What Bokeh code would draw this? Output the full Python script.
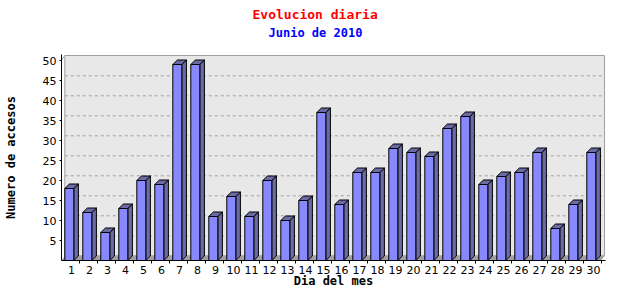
from bokeh.plotting import figure
from bokeh.models import FixedTicker, Title, Range1d
from bokeh.embed import file_html
from bokeh.resources import INLINE

# ---- data ----
days = list(range(1, 31))
visits = [18, 12, 7, 13, 20, 19, 49, 49, 11, 16, 11, 20, 10, 15, 37,
          14, 22, 22, 28, 27, 26, 33, 36, 19, 21, 22, 27, 8, 14, 27]
y_ticks = [5, 10, 15, 20, 25, 30, 35, 40, 45, 50]
title_text = "Evolucion diaria"
subtitle_text = "Junio de 2010"
x_title = "Dia del mes"
y_title = "Numero de accesos"

# ---- geometry / style ----
FRAME_L, FRAME_R, FRAME_T, FRAME_B = 61, 605, 54, 260
PX_PER_CAT = 18.0
PX_PER_UNIT = 4.0
FIRST_LABEL_PX = 71.0
TITLE_LEFT_PX, SUBTITLE_LEFT_PX = 252, 268

x_start = days[0] - (FIRST_LABEL_PX - FRAME_L) / PX_PER_CAT
x_end = x_start + (FRAME_R - FRAME_L) / PX_PER_CAT
y_end = (FRAME_B - FRAME_T) / PX_PER_UNIT

DX = 4.6 / PX_PER_CAT          # bar depth (x, data units)
DY = 4.5 / PX_PER_UNIT         # bar depth (y, data units)
PLANE_DX = 3.3 / PX_PER_CAT
PLANE_DY = 4.7 / PX_PER_UNIT
BAR_L = -6.7 / PX_PER_CAT
BAR_R = 2.3 / PX_PER_CAT
TICK_OFF = 7.5 / PX_PER_CAT

plane_left = x_start + PLANE_DX
plane_right = x_start + (604 - FRAME_L) / PX_PER_CAT
plane_top = (FRAME_B - 55) / PX_PER_UNIT

FRONT = "#8888ff"
SIDE = "#6b6ba6"
PLANE_BG = "#e8e8e8"
GRAY = "#a0a0a0"
MONO = "DejaVu Sans Mono"
SANS = "DejaVu Sans"

p = figure(width=640, height=300,
           x_range=Range1d(x_start, x_end), y_range=Range1d(0, y_end),
           output_backend="svg", toolbar_location=None, title=None,
           min_border_left=FRAME_L, min_border_right=640 - FRAME_R,
           min_border_top=FRAME_T, min_border_bottom=300 - FRAME_B)
p.outline_line_color = None
p.background_fill_color = "white"
p.border_fill_color = "white"
p.xgrid.visible = False
p.ygrid.visible = False

# back plane
p.quad(left=[plane_left], right=[plane_right], bottom=[PLANE_DY], top=[plane_top],
       fill_color=PLANE_BG, line_color=GRAY, line_width=1)
# corner slant
p.segment(x0=[x_start], y0=[plane_top - PLANE_DY], x1=[plane_left], y1=[plane_top],
          line_color=GRAY, line_width=1)
# floor
p.patch(x=[x_start, plane_left, plane_right, plane_right - PLANE_DX],
        y=[0, PLANE_DY, PLANE_DY, 0], fill_color=GRAY, line_color=None)
# dashed grid on back plane
grid_vals = [v for v in y_ticks if v + PLANE_DY < plane_top - 0.5]
p.segment(x0=[plane_left] * len(grid_vals), x1=[plane_right] * len(grid_vals),
          y0=[v + PLANE_DY for v in grid_vals], y1=[v + PLANE_DY for v in grid_vals],
          line_color=GRAY, line_width=1, line_dash="3 3")

# 3D bars
front_xs, front_ys, side_xs, side_ys, top_xs, top_ys = [], [], [], [], [], []
for d, v in zip(days, visits):
    l, r = d + BAR_L, d + BAR_R
    front_xs.append([l, r, r, l]); front_ys.append([0, 0, v, v])
    side_xs.append([r, r + DX, r + DX, r]); side_ys.append([0, DY, v + DY, v])
    top_xs.append([l, l + DX, r + DX, r]); top_ys.append([v, v + DY, v + DY, v])

p.patches(xs=side_xs, ys=side_ys, fill_color=SIDE, line_color="black", line_width=1)
p.patches(xs=top_xs, ys=top_ys, fill_color=SIDE, line_color="black", line_width=1)
p.patches(xs=front_xs, ys=front_ys, fill_color=FRONT, line_color="black", line_width=1)

# axes
xa = p.xaxis[0]
xa.ticker = FixedTicker(ticks=days, minor_ticks=[d + TICK_OFF for d in days])
xa.major_tick_out = 0
xa.major_tick_in = 0
xa.minor_tick_out = 3
xa.minor_tick_in = 0
xa.minor_tick_line_color = "black"
xa.axis_line_color = "black"
xa.major_label_standoff = 2
xa.major_label_text_font = SANS
xa.major_label_text_font_size = "11px"
xa.major_label_text_color = "black"
xa.axis_label = x_title
xa.axis_label_text_font = MONO
xa.axis_label_text_font_style = "bold"
xa.axis_label_text_font_size = "12px"
xa.axis_label_text_color = "black"
xa.axis_label_standoff = -3

ya = p.yaxis[0]
ya.ticker = FixedTicker(ticks=y_ticks, minor_ticks=[])
ya.major_tick_out = 2
ya.major_tick_in = 0
ya.minor_tick_out = 0
ya.minor_tick_in = 0
ya.axis_line_color = "black"
ya.major_label_standoff = 3
ya.major_label_text_font = SANS
ya.major_label_text_font_size = "11px"
ya.major_label_text_color = "black"
ya.axis_label = y_title
ya.axis_label_text_font = MONO
ya.axis_label_text_font_style = "bold"
ya.axis_label_text_font_size = "12px"
ya.axis_label_text_color = "black"
ya.axis_label_standoff = 22

# titles
p.add_layout(Title(text=subtitle_text, align="left", offset=SUBTITLE_LEFT_PX - FRAME_L,
                   standoff=30, text_color="#0000ff", text_font=MONO,
                   text_font_style="bold", text_font_size="12px"), "above")
p.add_layout(Title(text=title_text, align="left", offset=TITLE_LEFT_PX - FRAME_L,
                   standoff=-27, text_color="#ff0000", text_font=MONO,
                   text_font_style="bold", text_font_size="13px"), "above")

open("out.html", "w").write(file_html(p, INLINE))
